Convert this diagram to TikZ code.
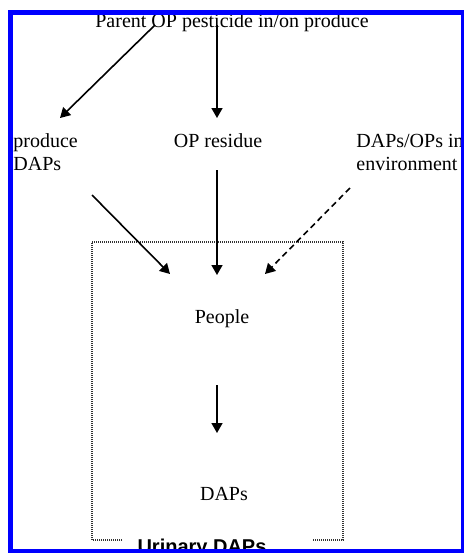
\documentclass[tikz,border=0pt]{standalone}
\usepackage{fontspec}
\setmainfont{Liberation Serif}
\newfontfamily\labelfont{Liberation Sans}
\usetikzlibrary{arrows.meta}

\tikzset{
    txt/.style={inner sep=0pt, font=\fontsize{10}{11.5}\selectfont},
    flow/.style={-{Triangle[length=5pt,width=5.5pt]}, line width=0.8pt},
    boxline/.style={line width=0.6pt, dash pattern=on 0.5pt off 0.5pt, black!80}
}

\begin{document}
\begin{tikzpicture}[x=0.5pt,y=-0.5pt]
    \useasboundingbox (0,0) rectangle (463,553);

    % Body box
    \draw[boxline] (122,540) -- (92,540) -- (92,242) -- (343,242) -- (343,540) -- (312,540);

    % Sources
    \node[txt,anchor=base] (parent) at (232,27) {Parent OP pesticide in/on produce};
    \node[txt,anchor=base west,align=left] (prod) at (13,170) {produce\\DAPs};
    \node[txt,anchor=base] (resid) at (218,147) {OP residue};
    \node[txt,anchor=base west,align=left] (env) at (356,170) {DAPs/OPs in\\environment};

    % Inside the body
    \node[txt,anchor=base] (people) at (222,323) {People};
    \node[txt,anchor=base] (daps) at (224,500) {DAPs};
    \node[anchor=base,inner sep=0pt,font=\labelfont\bfseries\fontsize{10}{12}\selectfont] (urine) at (202,553) {Urinary DAPs};

    % Arrow ends
    \coordinate (p1) at (155,25);
    \coordinate (p2) at (217,25);
    \coordinate (q1) at (60,118);
    \coordinate (q2) at (217,118);
    \coordinate (a1) at (92,195);
    \coordinate (a2) at (217,170);
    \coordinate (a3) at (350,188);
    \coordinate (b1) at (170,274);
    \coordinate (b2) at (217,275);
    \coordinate (b3) at (265,274);
    \coordinate (c1) at (217,385);
    \coordinate (c2) at (217,433);

    % Arrows
    \draw[flow] (p1) -- (q1);
    \draw[flow] (p2) -- (q2);
    \draw[flow] (a1) -- (b1);
    \draw[flow] (a2) -- (b2);
    \draw[flow,dash pattern=on 3pt off 2pt] (a3) -- (b3);
    \draw[flow] (c1) -- (c2);

    % Frame
    \draw[blue,line width=2.5pt] (10.5,12) rectangle (463.5,551.5);
\end{tikzpicture}
\end{document}
